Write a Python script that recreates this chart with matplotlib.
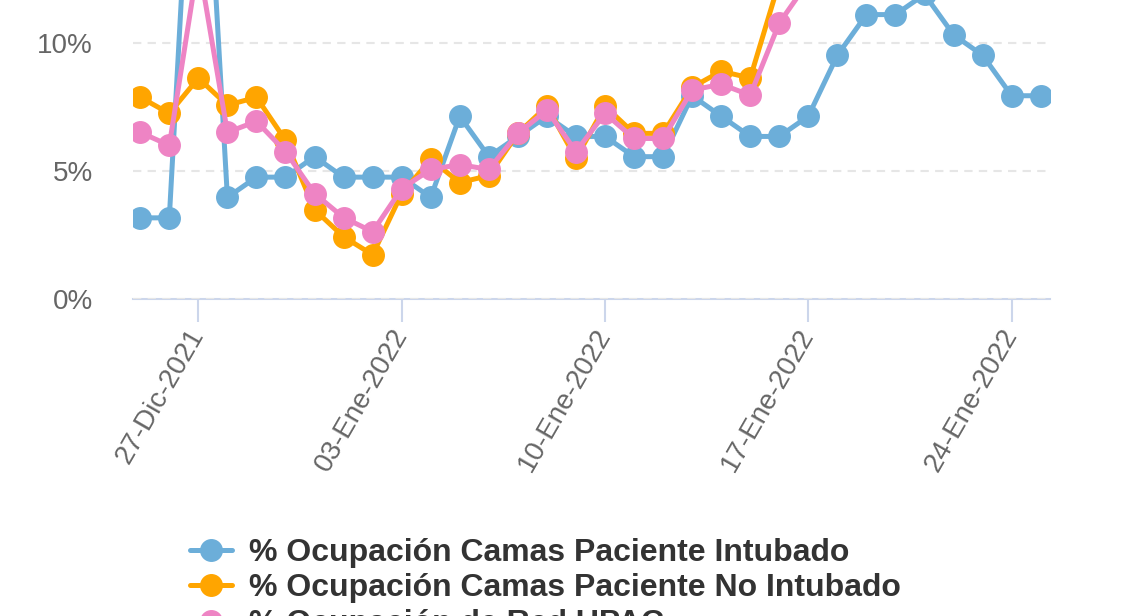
import numpy as np
import pandas as pd
import matplotlib
matplotlib.use("Agg")
import matplotlib.pyplot as plt
import matplotlib.dates as mdates

plt.rcParams['font.family'] = ['Liberation Sans', 'DejaVu Sans']

fechas = pd.date_range('2021-12-25', '2022-01-25', freq='D')
nan = np.nan

# % ocupacion por dia (valores fuera del area visible solo estimados)
intubado = [3.17, 3.17, 23.8, 3.97, 4.76, 4.76, 5.56,
            4.76, 4.76, 4.76, 3.97, 7.14, 5.56, 6.35, 7.14, 6.35, 6.35, 5.56, 5.56, 7.94,
            7.14, 6.35, 6.35, 7.14, 9.52, 11.11, 11.11, 11.9, 10.32, 9.52, 7.94, 7.94]
no_intubado = [7.88, 7.25, 8.63, 7.57, 7.88, 6.2, 3.49,
               2.43, 1.73, 4.12, 5.45, 4.55, 4.82, 6.47, 7.53, 5.49, 7.53, 6.47, 6.47, 8.27,
               8.9, 8.63, 12.4, nan, nan, nan, nan, nan, nan, nan, nan, nan]
red_upac = [6.51, 6.0, 13.2, 6.51, 6.94, 5.76, 4.12,
            3.18, 2.63, 4.31, 5.06, 5.25, 5.06, 6.47, 7.37, 5.76, 7.25, 6.27, 6.27, 8.16,
            8.39, 7.96, 10.78, 12.4, nan, nan, nan, nan, nan, nan, nan, nan]

series = ['% Ocupación Camas Paciente Intubado',
          '% Ocupación Camas Paciente No Intubado',
          '% Ocupación de Red UPAC']
colores = ['#6caed9', '#ffa500', '#ee84c4']

tick_fechas = pd.to_datetime(['2021-12-27', '2022-01-03', '2022-01-10', '2022-01-17', '2022-01-24'])
tick_labels = ['27-Dic-2021', '03-Ene-2022', '10-Ene-2022', '17-Ene-2022', '24-Ene-2022']
y_ticks = [0, 5, 10]
y_labels = ['0%', '5%', '10%']

fig = plt.figure(figsize=(11.36, 6.16), dpi=100)
ax = fig.add_axes([133/1136, 317/616, 917/1136, 299/616])

for vals, nombre, c in zip([intubado, no_intubado, red_upac], series, colores):
    ax.plot(fechas, vals, color=c, lw=3.6, marker='o', ms=15.5, label=nombre,
            solid_capstyle='round', solid_joinstyle='round')

x0 = mdates.date2num(pd.Timestamp('2021-12-27'))
x1 = mdates.date2num(pd.Timestamp('2022-01-24'))
ax.set_xlim(x0 - 2.25, x1 + 1.32)
ax.set_ylim(0, 299/25.6)

ax.set_yticks(y_ticks)
ax.set_yticklabels(y_labels)
ax.set_xticks(tick_fechas)
ax.set_xticklabels(tick_labels, rotation=60, ha='right', va='center', rotation_mode='anchor')

ax.grid(axis='y', color='#e6e6e6', lw=1.5, linestyle=(0, (4, 3)))
ax.set_axisbelow(True)
for s in ['top', 'right', 'left']:
    ax.spines[s].set_visible(False)
ax.spines['bottom'].set_color('#ccd6eb')
ax.spines['bottom'].set_linewidth(1.5)
ax.spines['bottom'].set_zorder(0.5)
ax.tick_params(axis='y', length=0, pad=29, labelsize=20, labelcolor='#666666')
ax.tick_params(axis='x', length=16.5, width=1.5, color='#ccd6eb', pad=6.5,
               labelsize=20, labelcolor='#666666')

leg = fig.legend(loc='upper left', bbox_to_anchor=(190/1136, 1 - 538/616), frameon=False,
                 prop={'size': 23, 'weight': 'bold'}, labelcolor='#333333',
                 handlelength=1.3, handletextpad=0.56, labelspacing=0.17,
                 borderpad=0, borderaxespad=0, markerscale=1.0)

fig.savefig('out.png', dpi=100)
